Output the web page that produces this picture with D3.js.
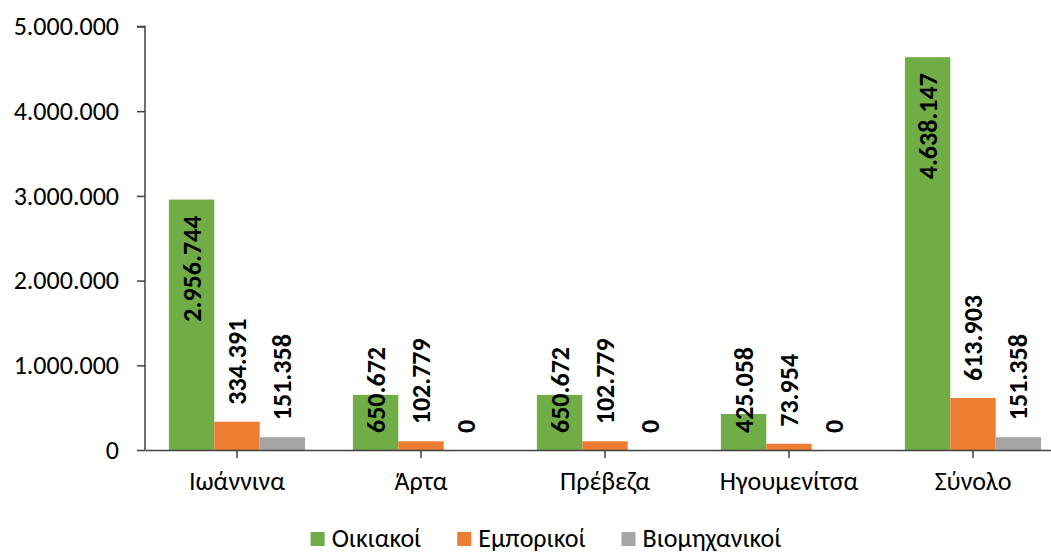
<!DOCTYPE html>
<html>
<head>
<meta charset="utf-8">
<script src="https://cdn.jsdelivr.net/npm/d3@7"></script>
<style>
    body { margin: 0; background: #ffffff; }
    svg { display: block; font-family: Carlito, Calibri, Lato, "Open Sans", sans-serif; }
</style>
</head>
<body>
<div class="chart"></div>
<script>
"use strict";

// data
var categories = ["Ιωάννινα", "Άρτα", "Πρέβεζα", "Ηγουμενίτσα", "Σύνολο"];
var seriesNames = ["Οικιακοί", "Εμπορικοί", "Βιομηχανικοί"];
var oikiakoi = [2956744, 650672, 650672, 425058, 4638147];
var emporikoi = [334391, 102779, 102779, 73954, 613903];
var viomichanikoi = [151358, 0, 0, 0, 151358];
var yTicks = [0, 1000000, 2000000, 3000000, 4000000, 5000000];
var colors = ["#70AD47", "#ED7D31", "#A5A5A5"];

var seriesValues = [oikiakoi, emporikoi, viomichanikoi];

var width = 1051;
var height = 554;
var plot = { left: 145, right: 1065, top: 26.5, bottom: 450 };

var gr = d3.formatLocale({ decimal: ",", thousands: ".", grouping: [3], currency: ["", "€"] });
var fmt = gr.format(",d");

var svg = d3.select(".chart").append("svg")
            .attr("width", width)
            .attr("height", height);

var x0 = d3.scaleBand()
            .domain(categories)
            .range([plot.left, plot.right])
            .paddingInner(0.26)
            .paddingOuter(0.13);

var x1 = d3.scaleBand()
            .domain(d3.range(seriesNames.length))
            .range([0, x0.bandwidth()]);

var y = d3.scaleLinear()
            .domain([0, 5000000])
            .range([plot.bottom, plot.top]);

// bars
var groups = svg.selectAll(".barGroup")
                .data(categories)
                .enter()
                .append("g")
                .attr("class", "barGroup")
                .attr("transform", function(d) { return "translate(" + x0(d) + ",0)"; });

groups.selectAll("rect")
      .data(function(d, i) { return seriesValues.map(function(s, j) { return { s: j, v: s[i] }; }); })
      .enter()
      .append("rect")
      .attr("x", function(d) { return x1(d.s); })
      .attr("y", function(d) { return y(d.v); })
      .attr("width", x1.bandwidth())
      .attr("height", function(d) { return plot.bottom - y(d.v); })
      .attr("fill", function(d) { return colors[d.s]; });

// value labels
groups.selectAll(".barText")
      .data(function(d, i) { return seriesValues.map(function(s, j) { return { s: j, v: s[i] }; }); })
      .enter()
      .append("text")
      .attr("class", "barText")
      .text(function(d) { return fmt(d.v); })
      .attr("font-size", "26px")
      .attr("font-weight", "bold")
      .attr("fill", "#000000")
      .attr("dominant-baseline", "central")
      .each(function(d) {
          var t = d3.select(this);
          var cx = x1(d.s) + x1.bandwidth() / 2;
          var top = y(d.v);
          if (d.s === 0)
          {
              // inside end, pushed up from the base when the bar is short
              var len = this.getComputedTextLength();
              var yy = Math.min(top + 16 + len, plot.bottom - 17);
              t.attr("text-anchor", "start")
               .attr("transform", "translate(" + cx + "," + yy + ") rotate(-90)");
          }
          else
          {
              t.attr("text-anchor", "start")
               .attr("transform", "translate(" + cx + "," + (top - 17) + ") rotate(-90)");
          }
      });

// y axis
var yAxis = d3.axisLeft(y)
            .tickValues(yTicks)
            .tickFormat(fmt)
            .tickSize(8)
            .tickPadding(18);

var yG = svg.append("g")
            .attr("class", "yAxis")
            .attr("transform", "translate(" + plot.left + ",0)")
            .call(yAxis);

// x axis
var xAxis = d3.axisBottom(x0)
            .tickSize(8)
            .tickPadding(14)
            .tickSizeOuter(0);

var xG = svg.append("g")
            .attr("class", "xAxis")
            .attr("transform", "translate(0," + plot.bottom + ")")
            .call(xAxis);

yG.attr("font-family", null).attr("font-size", null);
xG.attr("font-family", null).attr("font-size", null);

svg.selectAll(".yAxis path, .xAxis path, .yAxis line, .xAxis line")
   .attr("stroke", "#404040")
   .attr("stroke-width", 1.5);
yG.select(".domain").attr("d", "M0," + plot.bottom + "V" + plot.top + "H-8");
svg.selectAll(".yAxis text, .xAxis text")
   .attr("font-size", "26px")
   .attr("fill", "#000000");

// legend
var legend = svg.append("g").attr("class", "legend");
var lx = 0;
seriesNames.forEach(function(name, i) {
    var item = legend.append("g").attr("transform", "translate(" + lx + ",0)");
    item.append("rect")
        .attr("x", 0)
        .attr("y", -6)
        .attr("width", 14)
        .attr("height", 14)
        .attr("fill", colors[i]);
    var txt = item.append("text")
        .attr("x", 21)
        .attr("y", 0)
        .attr("dominant-baseline", "central")
        .attr("font-size", "26px")
        .attr("fill", "#000000")
        .text(name);
    lx += 21 + txt.node().getComputedTextLength() + 36;
});
var legendWidth = lx - 36;
legend.attr("transform", "translate(" + (546 - legendWidth / 2) + ",538)");
</script>
</body>
</html>
